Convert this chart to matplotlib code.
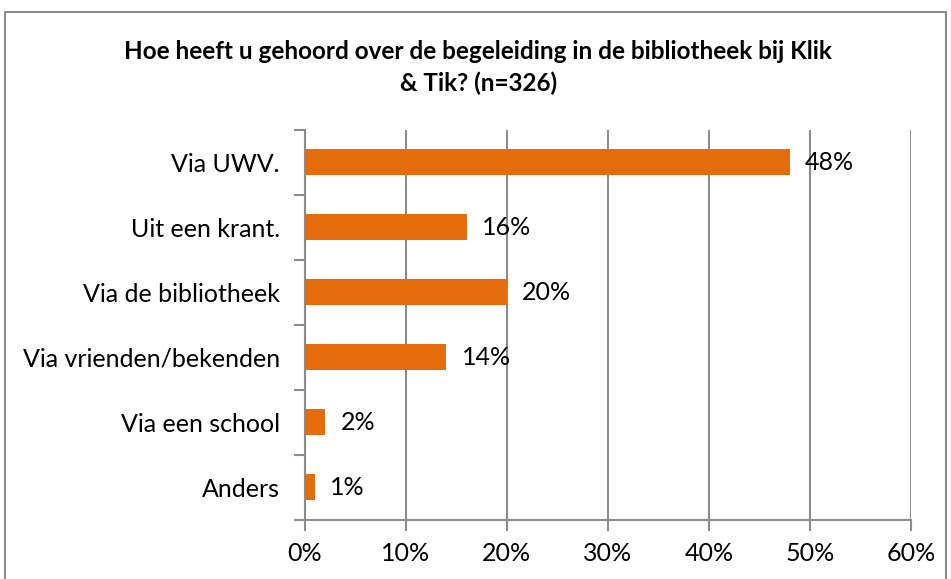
import matplotlib.pyplot as plt
import numpy as np
from matplotlib.patches import Rectangle
from matplotlib.ticker import PercentFormatter

categories = ['Via UWV.', 'Uit een krant.', 'Via de bibliotheek',
              'Via vrienden/bekenden', 'Via een school', 'Anders']
values = [48, 16, 20, 14, 2, 1]
title = 'Hoe heeft u gehoord over de begeleiding in de bibliotheek bij Klik\n& Tik? (n=326)'

bar_color = '#E46C0A'
grid_color = '#8C8C8C'
fontsize = 18

plt.rcParams['font.family'] = ['Lato', 'DejaVu Sans']

fig = plt.figure(figsize=(9.51, 5.79), dpi=100)
ax = fig.add_axes([0.3207, 0.1019, 0.637, 0.6736])

y = np.arange(len(categories))
ax.barh(y, values, height=0.4, color=bar_color, zorder=3)
for yi, v in zip(y, values):
    ax.annotate('%d%%' % v, (v, yi), xytext=(11, 0), textcoords='offset points',
                va='center', ha='left', fontsize=fontsize, zorder=4)

ax.set_ylim(len(categories) - 0.5, -0.5)
ax.set_xlim(0, 60)
ax.set_xticks(np.arange(0, 61, 10))
ax.xaxis.set_major_formatter(PercentFormatter(decimals=0))
ax.set_yticks(y)
ax.set_yticklabels(categories)
ax.set_yticks(np.arange(-0.5, len(categories)), minor=True)
ax.tick_params(axis='y', which='major', length=0, pad=18, labelsize=fontsize)
ax.tick_params(axis='y', which='minor', length=8, width=1.5, color=grid_color)
ax.tick_params(axis='x', length=8, width=1.5, color=grid_color, pad=8, labelsize=fontsize)
ax.grid(axis='x', color=grid_color, linewidth=1.5, zorder=0)

for s in ['top', 'right']:
    ax.spines[s].set_visible(False)
for s in ['left', 'bottom']:
    ax.spines[s].set_color(grid_color)
    ax.spines[s].set_linewidth(1.5)

fig.text(0.503, 0.884, title, ha='center', va='center', fontsize=17.5,
         fontweight='bold', linespacing=1.45)

fig.patches.append(Rectangle((0.005, -0.1), 0.99, 1.08, transform=fig.transFigure,
                             fill=False, edgecolor='#8C8C8C', linewidth=1.5))

fig.savefig('out.png', dpi=100)
